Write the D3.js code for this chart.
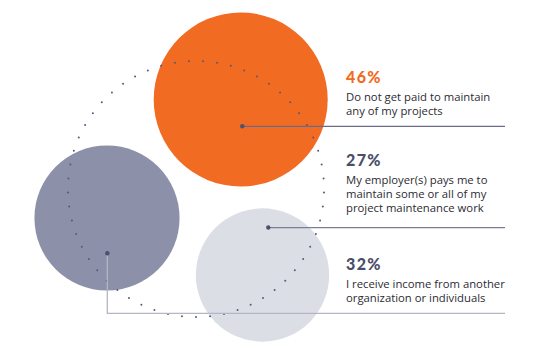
<!DOCTYPE html>
<html><head><meta charset="utf-8">
<script src="https://cdn.jsdelivr.net/npm/d3@7"></script>
<style>html,body{margin:0;padding:0;background:#fff;}svg{display:block;}</style>
</head><body>
<script>
// ---- data ----
const percents = [46, 27, 32];
const labels = [
  ["Do not get paid to maintain", "any of my projects"],
  ["My employer(s) pays me to", "maintain some or all of my", "project maintenance work"],
  ["I receive income from another", "organization or individuals"]
];
const ringDots = 57;

// ---- layout ----
const W = 552, H = 359;
const svg = d3.select("body").append("svg").attr("width", W).attr("height", H);
const r = d3.scaleSqrt().domain([0, 46]).range([0, 87]);
const fills = ["#F26B23", "#dcdee6", "#8c90a9"];
const pctColors = ["#F26B23", "#4b4e68", "#4b4e68"];
const centers = [[240.7, 99.5], [262.5, 275], [107, 218]];
const anchors = [[242.3, 126.3], [268.3, 227.5], [107.3, 253.3]];
const lineY = [126.3, 227.7, 313.3];
const lineColors = ["#696d88", "#7b7e96", "#b4b6c3"];
const textTop = [82.5, 165.5, 269.5];
const textX = 346, lineEnd = 505;

const order = [2, 1, 0];
svg.selectAll("circle.bub").data(order).enter().append("circle")
  .attr("class", "bub")
  .attr("cx", i => centers[i][0]).attr("cy", i => centers[i][1])
  .attr("r", i => r(percents[i])).attr("fill", i => fills[i]);

// dotted ring
const ring = {cx: 196, cy: 189, r: 128};
const ang = d3.range(ringDots).map(k => Math.PI / 2 + k * 2 * Math.PI / ringDots);
svg.selectAll("circle.rd").data(ang).enter().append("circle")
  .attr("class", "rd")
  .attr("cx", a => ring.cx + ring.r * Math.cos(a))
  .attr("cy", a => ring.cy + ring.r * Math.sin(a))
  .attr("r", 1).attr("fill", "#555a78");

// leader lines
percents.forEach((p, i) => {
  const [ax, ay] = anchors[i];
  let d;
  if (Math.abs(ay - lineY[i]) < 1) d = `M${ax},${lineY[i]}H${lineEnd}`;
  else d = `M${ax},${ay}V${lineY[i]}H${lineEnd}`;
  svg.append("path").attr("d", d).attr("fill", "none")
    .attr("stroke", lineColors[i]).attr("stroke-width", 1.3);
  svg.append("circle").attr("cx", ax).attr("cy", ay).attr("r", 2.2).attr("fill", "#4d5170");
});

// texts
percents.forEach((p, i) => {
  svg.append("text").attr("x", textX).attr("y", textTop[i])
    .attr("font-family", "Lato, sans-serif").attr("font-weight", 900)
    .attr("font-size", 16).attr("letter-spacing", 1.4)
    .attr("fill", pctColors[i]).text(p + "%");
  labels[i].forEach((s, j) => {
    svg.append("text").attr("x", textX).attr("y", textTop[i] + 18.3 + j * 14.3)
      .attr("font-family", "'Open Sans', sans-serif").attr("font-size", 11.3)
      .attr("fill", "#2b2b33").text(s);
  });
});
</script>
</body></html>
